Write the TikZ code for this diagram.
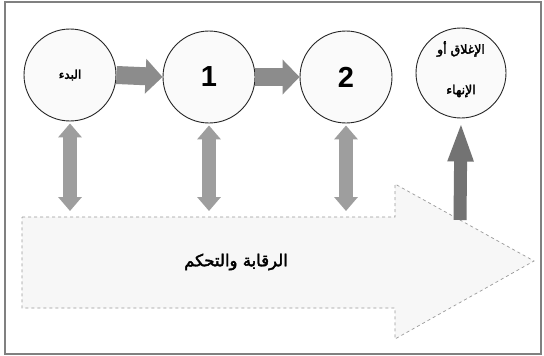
\documentclass[tikz,border=0pt]{standalone}
\usepackage{fontspec}
\setmainfont{Liberation Sans}
\newfontfamily\arabicfont[Script=Arabic, AutoFakeBold=2.5]{DejaVu Sans}
\TeXXeTstate=1
\usetikzlibrary{arrows.meta}
\tikzset{
  stage/.style={circle, draw=black!85, line width=0.9pt, fill=black!2, minimum size=92pt, inner sep=0pt},
  flowarrow/.style={draw=black!45, line width=18pt, -{Triangle[length=17pt,width=34pt]}, shorten >=0pt},
  linkarrow/.style={draw=black!38, line width=14pt, {Triangle[length=14pt,width=23pt]}-{Triangle[length=14pt,width=23pt]}},
  closearrow/.style={draw=black!55, line width=13pt, -{Triangle[length=40pt,width=23pt,fill=black!45]}},
  bigarrow/.style={draw=black!40, dashed, line width=0.7pt, fill=black!3},
  label/.style={font=\arabicfont\bfseries}
}
\begin{document}
\begin{tikzpicture}[x=1pt,y=-1pt]
\useasboundingbox (0,0) rectangle (544,356);
\draw[black!50, line width=1.5pt, fill=white] (5,2) rectangle (541,354);
% big arrow
\coordinate (b1) at (22,217);
\coordinate (b2) at (395,217);
\coordinate (b3) at (395,184);
\coordinate (btip) at (534,261);
\coordinate (b4) at (395,339);
\coordinate (b5) at (395,308);
\coordinate (b6) at (22,308);
\draw[bigarrow] (b1) -- (b2) -- (b3) -- (btip) -- (b4) -- (b5) -- (b6) -- cycle;
\node[label, font=\arabicfont\bfseries\fontsize{16.5}{19}\selectfont] (ctl) at (236,262) {\beginR الرقابة والتحكم\endR};
% circles
\node[stage] (s0) at (70,75) {\arabicfont\bfseries\fontsize{12}{14}\selectfont\beginR البدء\endR};
\node[stage] (s1) at (209,77) {\fontsize{29}{32}\selectfont\bfseries 1};
\node[stage] (s2) at (346,77) {\fontsize{29}{32}\selectfont\bfseries 2};
\node[stage, minimum size=90pt] (s3) at (461,73) {};
\node[label, font=\arabicfont\bfseries\fontsize{12.5}{15}\selectfont] (s3a) at (461,49) {\beginR الإغلاق أو\endR};
\node[label, font=\arabicfont\bfseries\fontsize{12.5}{15}\selectfont] (s3b) at (461,91) {\beginR الإنهاء\endR};
% flow arrows
\draw[flowarrow] (s0.east) -- (s1.west);
\draw[flowarrow] (s1.east) -- (s2.west);
% link arrows
\coordinate (l0) at (70,211);
\coordinate (l1) at (209,211);
\coordinate (l2) at (346,211);
\draw[linkarrow] ([yshift=-2pt]s0.south) -- (l0);
\draw[linkarrow] ([yshift=-2pt]s1.south) -- (l1);
\draw[linkarrow] ([yshift=-2pt]s2.south) -- (l2);
% close arrow
\coordinate (cb) at (460,220);
\draw[closearrow] (cb) -- ([yshift=-3pt]s3.south);
\end{tikzpicture}
\end{document}
